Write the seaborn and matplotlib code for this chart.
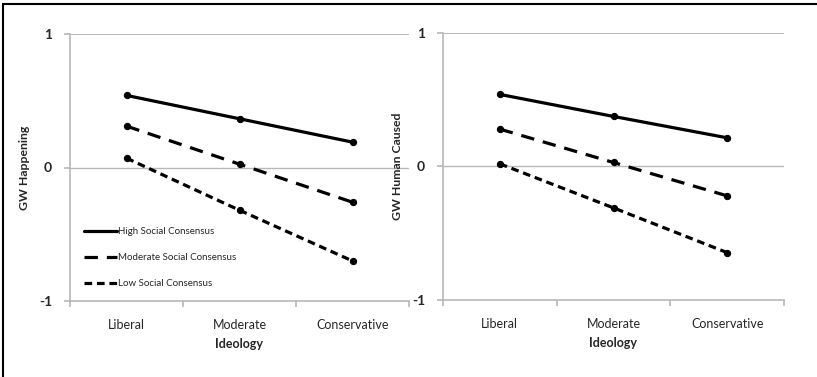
import matplotlib
matplotlib.use("Agg")
import matplotlib.pyplot as plt
import seaborn as sns
import pandas as pd
from matplotlib.lines import Line2D
from matplotlib.patches import Rectangle
from matplotlib.ticker import FixedLocator

# ---- data ----
ideology = ["Liberal", "Moderate", "Conservative"]
groups = ["High Social Consensus", "Moderate Social Consensus", "Low Social Consensus"]
happening_high = [0.54, 0.365, 0.19]
happening_moderate = [0.31, 0.025, -0.26]
happening_low = [0.07, -0.32, -0.70]
caused_high = [0.54, 0.375, 0.215]
caused_moderate = [0.28, 0.03, -0.22]
caused_low = [0.02, -0.31, -0.645]
yticks = [-1, 0, 1]
panel_ylabels = ["GW Happening", "GW Human Caused"]


def long_df(high, mod, low):
    rows = []
    for g, vals in zip(groups, [high, mod, low]):
        for x, v in zip(ideology, vals):
            rows.append({"Ideology": x, "value": v, "Consensus": g})
    return pd.DataFrame(rows)


dfs = [long_df(happening_high, happening_moderate, happening_low),
       long_df(caused_high, caused_moderate, caused_low)]

sns.set_theme(style="white")
plt.rcParams["font.family"] = ["Lato", "DejaVu Sans"]

fig = plt.figure(figsize=(8.17, 3.77), dpi=100)
positions = [[70 / 817, 1 - 301 / 377, 339 / 817, 267 / 377],
             [443 / 817, 1 - 300 / 377, 341 / 817, 267 / 377]]

lw = 2.3
dash_map = {groups[0]: "", groups[1]: (4.2, 2.8), groups[2]: (2.4, 1.5)}
marker_map = {g: "o" for g in groups}
grid_c = "#b8b8b8"

for i, (df, pos) in enumerate(zip(dfs, positions)):
    ax = fig.add_axes(pos)
    sns.lineplot(data=df, x="Ideology", y="value", style="Consensus",
                 style_order=groups, dashes=dash_map, markers=marker_map,
                 color="black", linewidth=lw, markersize=4.5,
                 markeredgecolor="black", legend=False, ax=ax)
    ax.set_xlim(-0.5, 2.5)
    ax.set_ylim(-1, 1)
    for s in ["top", "right"]:
        ax.spines[s].set_visible(False)
    for s in ["left", "bottom"]:
        ax.spines[s].set_color(grid_c)
        ax.spines[s].set_linewidth(1.2)
    ax.axhline(1, color=grid_c, lw=1.4, zorder=0)
    ax.axhline(0, color=grid_c, lw=1.0, zorder=0)
    ax.set_yticks(yticks)
    ax.set_yticklabels([str(t) for t in yticks], fontweight="bold", fontsize=10)
    ax.tick_params(axis="y", length=4, width=1.2, color=grid_c, pad=9, left=True)
    ax.set_xticks(range(len(ideology)))
    ax.set_xticklabels(ideology, fontsize=9)
    ax.xaxis.set_minor_locator(FixedLocator([-0.5, 0.5, 1.5, 2.5]))
    ax.tick_params(axis="x", which="major", length=0, pad=13)
    ax.tick_params(axis="x", which="minor", length=4, width=1.2, color=grid_c, bottom=True)
    ax.set_xlabel("Ideology", fontweight="bold", fontsize=9, labelpad=5)
    ax.set_ylabel(panel_ylabels[i], fontweight="bold", fontsize=8.8, labelpad=6)
    ax.grid(False)
    if i == 0:
        handles = []
        for g in groups:
            h = Line2D([], [], color="black", lw=lw)
            if dash_map[g]:
                h.set_dashes(dash_map[g])
            handles.append(h)
        ax.legend(handles, groups, loc="lower left", bbox_to_anchor=(0.03, 0.033),
                  frameon=False, fontsize=7, handlelength=3.4, handletextpad=0.1,
                  labelspacing=1.75, borderaxespad=0)

fig.patches.append(Rectangle((3.5 / 817, -0.1), 1.2, 1 - 3.5 / 377 + 0.1,
                             transform=fig.transFigure, fill=False,
                             edgecolor="black", lw=1.5, clip_on=False))
fig.savefig("out.png", dpi=100)
